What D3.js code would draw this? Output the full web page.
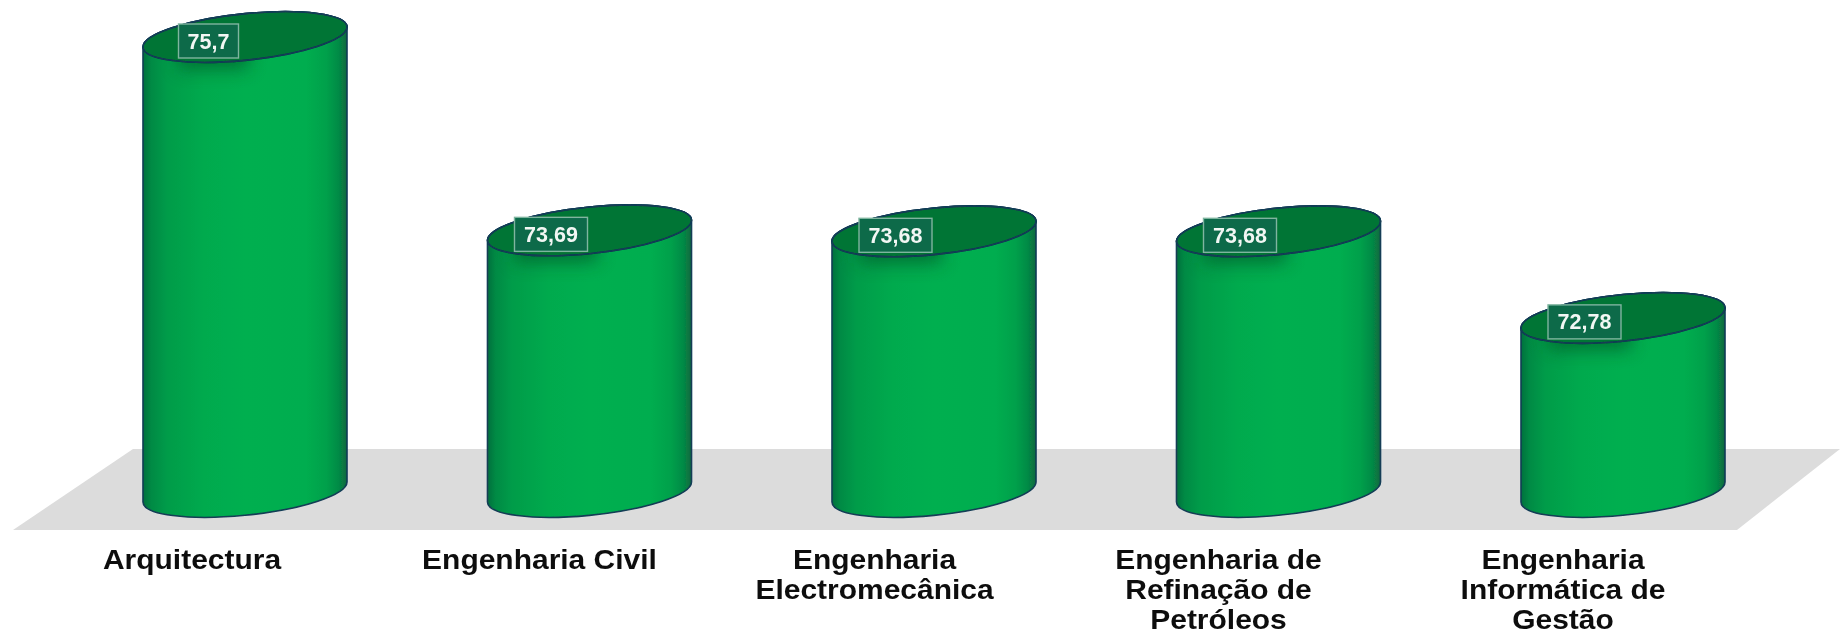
<!DOCTYPE html>
<html><head><meta charset="utf-8">
<script src="https://cdn.jsdelivr.net/npm/d3@7/dist/d3.min.js"></script>
<style>html,body{margin:0;padding:0;background:#fff;overflow:hidden}svg{display:block}</style>
</head><body><svg id="c" width="1840" height="634"></svg>
<script>
const categories = ["Arquitectura","Engenharia Civil","Engenharia Electromecânica","Engenharia de Refinação de Petróleos","Engenharia Informática de Gestão"];
const labelLines = [["Arquitectura"],["Engenharia Civil"],["Engenharia","Electromecânica"],["Engenharia de","Refinação de","Petróleos"],["Engenharia","Informática de","Gestão"]];
const values = [75.7,73.69,73.68,73.68,72.78];
const valueLabels = ["75,7","73,69","73,68","73,68","72,78"];
const baseValue = 70.97;
const W=1840,H=634;
const svg=d3.select("#c");
const x=d3.scaleBand().domain(categories).range([72.75,1795.25]).paddingInner(0).paddingOuter(0);
const y=d3.scaleLinear().domain([baseValue,75.7]).range([492,37]);
const A=102.5,B=23.2,ROT=-5.92,HALF=102;
const TY=10;
const labelShift=[-53,-50,-59.5,-60,-60];
const defs=svg.append("defs");
const body=defs.append("linearGradient").attr("id","body").attr("x1",0).attr("x2",1).attr("y1",0).attr("y2",0);
[[0,"#06703e"],[0.04,"#058a44"],[0.12,"#029c49"],[0.3,"#00aa4e"],[0.5,"#00af50"],[0.8,"#00ad4f"],[0.9,"#02a04b"],[0.96,"#058a45"],[1,"#0a6840"]].forEach(s=>body.append("stop").attr("offset",s[0]).attr("stop-color",s[1]));
defs.append("filter").attr("id","soft").attr("x","-50%").attr("y","-80%").attr("width","200%").attr("height","260%").append("feGaussianBlur").attr("stdDeviation",9);
defs.append("filter").attr("id","tiny").append("feGaussianBlur").attr("stdDeviation",0.6);
defs.append("filter").attr("id","txt").attr("x","-5%").attr("y","-20%").attr("width","110%").attr("height","140%").append("feGaussianBlur").attr("stdDeviation",0.5);
svg.append("path").attr("d",d3.line()([[133,449],[1840,449],[1737,530],[13,530]])+"Z").attr("fill","#dcdcdc").attr("filter","url(#tiny)");
const g=svg.selectAll("g.bar").data(categories).join("g").attr("class","bar");
g.each(function(c,i){
  const s=d3.select(this),cx=x(c)+x.bandwidth()/2,top=y(values[i]),bot=y(baseValue);
  const cid="clip"+i;
  const ell=(yc)=>`M${cx-HALF},${yc+TY}A${A},${B} ${ROT} 0 1 ${cx+HALF},${yc-TY}A${A},${B} ${ROT} 0 1 ${cx-HALF},${yc+TY}Z`;
  const bodyPath=`M${cx-HALF},${top+TY}L${cx-HALF},${bot+TY}A${A},${B} ${ROT} 0 0 ${cx+HALF},${bot-TY}L${cx+HALF},${top-TY}A${A},${B} ${ROT} 0 0 ${cx-HALF},${top+TY}Z`;
  const m=s.append("g").attr("filter","url(#tiny)");
  m.append("path").attr("d",bodyPath).attr("fill","url(#body)").attr("stroke","#123c55").attr("stroke-width",1.6);
  m.append("path").attr("d",ell(top)).attr("fill","#067434").attr("stroke","#123c55").attr("stroke-width",1.6);
  defs.append("clipPath").attr("id",cid).append("path").attr("d",ell(top)+bodyPath);
  const long=valueLabels[i].length>4;
  const bx=cx-(long?38.5:36.5),by=top+4;
  const bw=long?73:60,bh=34;
  m.append("g").attr("clip-path",`url(#${cid})`).append("rect").attr("x",bx-bw/2).attr("y",by-bh/2+5).attr("width",bw+10).attr("height",bh+6).attr("fill","#045428").attr("opacity",0.65).attr("filter","url(#soft)");
  m.append("path").attr("d",ell(top)).attr("fill","none").attr("stroke","#123c55").attr("stroke-width",1.6);
  m.append("rect").attr("x",bx-bw/2).attr("y",by-bh/2).attr("width",bw).attr("height",bh).attr("fill","#0b6a4a").attr("stroke","#7fb59f").attr("stroke-width",1.4);
  s.append("text").attr("x",bx).attr("y",by+7.5).attr("text-anchor","middle").attr("font-family","'Liberation Sans',Arial,sans-serif").attr("font-weight","bold").attr("font-size",21.5).attr("fill","#f2f7f4").attr("filter","url(#txt)").text(valueLabels[i]);
  const t=s.append("text").attr("text-anchor","middle").attr("transform",`translate(${cx+labelShift[i]},0) scale(1.11,1)`).attr("font-family","'Liberation Sans',Arial,sans-serif").attr("font-weight","bold").attr("font-size",27).attr("fill","#111").attr("filter","url(#txt)");
  labelLines[i].forEach((l,k)=>t.append("tspan").attr("x",0).attr("y",569+k*30).text(l));
});
</script></body></html>
